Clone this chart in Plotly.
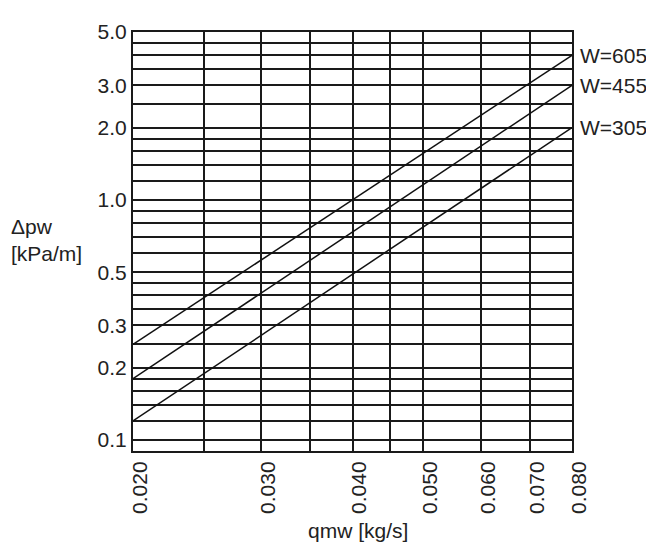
import plotly.graph_objects as go
import math

# Data (log-log straight lines, endpoints)
qmw = [0.020, 0.080]
dp_w605 = [0.25, 4.0]
dp_w455 = [0.18, 3.0]
dp_w305 = [0.12, 2.0]
series_names = ["W=605", "W=455", "W=305"]

x_grid = [0.020, 0.025, 0.030, 0.035, 0.040, 0.045, 0.050, 0.060, 0.070, 0.080]
x_labels = ["0.020", "", "0.030", "", "0.040", "", "0.050", "0.060", "0.070", "0.080"]
y_grid = [0.1, 0.12, 0.14, 0.16, 0.18, 0.2, 0.25, 0.3, 0.35, 0.4, 0.45, 0.5, 0.6, 0.7,
          0.8, 0.9, 1.0, 1.2, 1.4, 1.6, 1.8, 2.0, 2.5, 3.0, 3.5, 4.0, 4.5, 5.0]
y_label_vals = {0.1: "0.1", 0.2: "0.2", 0.3: "0.3", 0.5: "0.5", 1.0: "1.0",
                2.0: "2.0", 3.0: "3.0", 5.0: "5.0"}
y_labels = [y_label_vals.get(v, "") for v in y_grid]

FONT = "Liberation Sans, Arial, sans-serif"
FS = 21
TXT = "#222222"

# target plot area in page px: x 133..572, y 27..451 (page body has 8px margin)
W, H = 654, 546
L, T, R, B = 125, 19, 90, 103
pw = W - L - R
ph = H - T - B

def px_to_paper(px, py):
    return ((px - 8 - L) / pw, 1 - (py - 8 - T) / ph)

fig = go.Figure()
for name, ys in zip(series_names, [dp_w605, dp_w455, dp_w305]):
    fig.add_trace(go.Scatter(x=qmw, y=ys, mode="lines", name=name,
                             line=dict(color="#111111", width=1.5),
                             showlegend=False, cliponaxis=False))
    fig.add_annotation(x=math.log10(qmw[-1]), y=math.log10(ys[-1]), text=name,
                       showarrow=False, xanchor="left", xshift=6, yanchor="middle",
                       font=dict(family=FONT, size=FS, color=TXT))

fig.update_xaxes(type="log", range=[math.log10(0.02), math.log10(0.08)],
                 tickmode="array", tickvals=x_grid, ticktext=x_labels,
                 tickangle=-90, showgrid=True, gridcolor="#1a1a1a", gridwidth=1.7,
                 showline=True, linecolor="#1a1a1a", linewidth=2, mirror=True,
                 ticks="", zeroline=False, ticklabelshift=7,
                 tickfont=dict(family=FONT, size=FS, color=TXT))
fig.update_yaxes(type="log", range=[math.log10(0.09), math.log10(5.0)],
                 tickmode="array", tickvals=y_grid, ticktext=y_labels,
                 showgrid=True, gridcolor="#1a1a1a", gridwidth=1.7,
                 showline=True, linecolor="#1a1a1a", linewidth=2, mirror=True,
                 ticks="", zeroline=False,
                 tickfont=dict(family=FONT, size=FS, color=TXT))

ax, ay = px_to_paper(9, 224)
fig.add_annotation(xref="paper", yref="paper", x=ax, y=ay, text="Δpw",
                   showarrow=False, xanchor="left", yanchor="middle",
                   font=dict(family=FONT, size=FS, color=TXT))
ax, ay = px_to_paper(9, 251)
fig.add_annotation(xref="paper", yref="paper", x=ax, y=ay, text="[kPa/m]",
                   showarrow=False, xanchor="left", yanchor="middle",
                   font=dict(family=FONT, size=FS, color=TXT))
ax, ay = px_to_paper(358, 531)
fig.add_annotation(xref="paper", yref="paper", x=ax, y=ay, text="qmw [kg/s]",
                   showarrow=False, xanchor="center", yanchor="middle",
                   font=dict(family=FONT, size=FS, color=TXT))

fig.update_layout(width=W, height=H, margin=dict(l=L, r=R, t=T, b=B),
                  plot_bgcolor="white", paper_bgcolor="white",
                  font=dict(family=FONT, size=FS, color=TXT))

fig.write_html("out.html")
